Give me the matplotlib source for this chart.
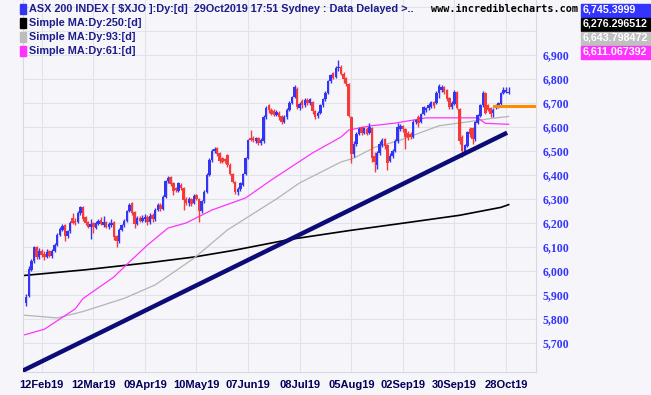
import numpy as np
import matplotlib.pyplot as plt
from matplotlib.patches import Rectangle

# daily candles, 04Feb19 .. 29Oct19 (index 0..187)
opens = [5865, 5895, 6005, 6040, 6098, 6060, 6085, 6070, 6060, 6082, 6062, 6085,
         6110, 6150, 6170, 6190, 6145, 6165, 6222, 6210, 6205, 6240, 6268, 6225,
         6205, 6185, 6198, 6180, 6195, 6212, 6190, 6205, 6185, 6190, 6205, 6145,
         6125, 6170, 6190, 6210, 6250, 6282, 6245, 6195, 6222, 6210, 6215, 6225,
         6205, 6232, 6215, 6255, 6275, 6258, 6310, 6375, 6390, 6365, 6345, 6335,
         6360, 6345, 6300, 6282, 6300, 6285, 6318, 6300, 6250, 6290, 6330, 6400,
         6462, 6500, 6512, 6490, 6470, 6465, 6482, 6442, 6405, 6372, 6328, 6340,
         6360, 6405, 6470, 6556, 6552, 6540, 6556, 6532, 6540, 6640, 6690, 6672,
         6665, 6650, 6660, 6645, 6622, 6640, 6670, 6700, 6725, 6760, 6680, 6710,
         6690, 6712, 6700, 6705, 6668, 6645, 6660, 6690, 6715, 6742, 6790, 6825,
         6810, 6845, 6850, 6822, 6805, 6780, 6642, 6488, 6530, 6570, 6598, 6575,
         6592, 6575, 6596, 6480, 6440, 6490, 6525, 6548, 6525, 6460, 6478, 6500,
         6540, 6590, 6605, 6590, 6575, 6570, 6560, 6620, 6642, 6620, 6655, 6670,
         6680, 6685, 6702, 6700, 6740, 6752, 6768, 6752, 6720, 6682, 6695, 6746,
         6675, 6560, 6495, 6520, 6590, 6596, 6548, 6618, 6645, 6690, 6742, 6690,
         6680, 6660, 6680, 6682, 6695, 6742, 6745, 6742]
highs = [5905, 6020, 6048, 6105, 6102, 6095, 6092, 6085, 6090, 6088, 6090, 6118,
         6158, 6182, 6195, 6195, 6172, 6210, 6240, 6220, 6250, 6272, 6272, 6228,
         6210, 6215, 6205, 6210, 6218, 6225, 6228, 6210, 6202, 6215, 6210, 6150,
         6178, 6195, 6218, 6255, 6285, 6288, 6250, 6228, 6230, 6232, 6238, 6235,
         6240, 6240, 6262, 6285, 6282, 6318, 6380, 6395, 6395, 6370, 6350, 6372,
         6368, 6350, 6310, 6308, 6305, 6320, 6322, 6305, 6295, 6338, 6408, 6470,
         6508, 6515, 6516, 6494, 6475, 6470, 6488, 6448, 6410, 6375, 6350, 6372,
         6410, 6475, 6550, 6588, 6562, 6560, 6560, 6552, 6650, 6688, 6695, 6680,
         6675, 6670, 6668, 6650, 6648, 6678, 6708, 6730, 6775, 6765, 6705, 6715,
         6720, 6720, 6722, 6710, 6672, 6668, 6695, 6720, 6748, 6795, 6822, 6830,
         6852, 6879, 6858, 6828, 6810, 6785, 6645, 6540, 6578, 6600, 6605, 6600,
         6598, 6615, 6600, 6495, 6498, 6540, 6552, 6552, 6530, 6490, 6508, 6548,
         6617, 6612, 6610, 6595, 6585, 6580, 6628, 6635, 6648, 6660, 6688, 6685,
         6698, 6710, 6708, 6748, 6780, 6775, 6772, 6758, 6725, 6708, 6752, 6750,
         6680, 6565, 6530, 6585, 6598, 6600, 6625, 6655, 6695, 6748, 6746, 6695,
         6685, 6680, 6695, 6705, 6745, 6768, 6765, 6765]
lows = [5852, 5890, 6000, 6035, 6050, 6050, 6058, 6045, 6055, 6058, 6055, 6080,
        6105, 6145, 6165, 6125, 6138, 6160, 6195, 6192, 6200, 6235, 6210, 6190,
        6178, 6135, 6160, 6175, 6190, 6190, 6182, 6178, 6175, 6185, 6130, 6100,
        6118, 6165, 6185, 6205, 6245, 6235, 6180, 6190, 6205, 6205, 6205, 6190,
        6195, 6205, 6210, 6250, 6250, 6255, 6305, 6365, 6355, 6315, 6328, 6330,
        6338, 6255, 6275, 6270, 6272, 6280, 6295, 6205, 6242, 6285, 6325, 6395,
        6455, 6492, 6480, 6450, 6448, 6450, 6435, 6398, 6365, 6322, 6317, 6335,
        6355, 6400, 6465, 6540, 6538, 6532, 6525, 6525, 6535, 6635, 6658, 6648,
        6645, 6645, 6630, 6612, 6615, 6635, 6665, 6695, 6720, 6675, 6672, 6680,
        6685, 6690, 6692, 6655, 6632, 6638, 6655, 6685, 6710, 6738, 6785, 6798,
        6805, 6835, 6815, 6785, 6772, 6640, 6450, 6475, 6522, 6565, 6568, 6570,
        6565, 6570, 6455, 6412, 6425, 6485, 6515, 6510, 6420, 6455, 6470, 6495,
        6535, 6585, 6580, 6508, 6545, 6550, 6555, 6612, 6600, 6615, 6650, 6662,
        6672, 6680, 6680, 6695, 6720, 6745, 6738, 6708, 6675, 6675, 6690, 6675,
        6530, 6475, 6488, 6515, 6560, 6530, 6540, 6612, 6640, 6685, 6655, 6665,
        6640, 6640, 6675, 6678, 6690, 6738, 6742, 6738]
closes = [5893, 6010, 6040, 6098, 6060, 6085, 6065, 6060, 6080, 6062, 6085, 6110,
          6150, 6175, 6188, 6145, 6165, 6200, 6198, 6200, 6240, 6265, 6215, 6200,
          6185, 6195, 6182, 6200, 6210, 6195, 6205, 6185, 6195, 6200, 6140, 6125,
          6170, 6190, 6210, 6250, 6275, 6240, 6195, 6220, 6210, 6222, 6225, 6205,
          6230, 6215, 6255, 6275, 6258, 6310, 6375, 6388, 6362, 6335, 6338, 6365,
          6345, 6295, 6285, 6300, 6280, 6312, 6300, 6250, 6290, 6330, 6400, 6462,
          6500, 6510, 6488, 6458, 6455, 6460, 6442, 6405, 6370, 6330, 6340, 6365,
          6405, 6470, 6545, 6545, 6546, 6552, 6532, 6545, 6640, 6680, 6670, 6655,
          6650, 6662, 6640, 6620, 6640, 6670, 6700, 6725, 6765, 6682, 6695, 6690,
          6712, 6700, 6715, 6665, 6640, 6660, 6690, 6715, 6742, 6790, 6815, 6805,
          6845, 6850, 6822, 6800, 6780, 6645, 6488, 6530, 6570, 6590, 6575, 6595,
          6572, 6598, 6470, 6455, 6490, 6530, 6545, 6520, 6450, 6480, 6500, 6540,
          6600, 6605, 6590, 6560, 6555, 6560, 6622, 6628, 6618, 6655, 6682, 6680,
          6692, 6704, 6686, 6742, 6772, 6768, 6745, 6715, 6682, 6700, 6745, 6680,
          6540, 6500, 6525, 6578, 6570, 6550, 6620, 6650, 6690, 6740, 6660, 6672,
          6655, 6672, 6690, 6698, 6740, 6752, 6755, 6745.3999]

# moving averages read at a few points (bar index, value)
ma250_idx = [-2, 23, 48, 65, 80, 102, 125, 148, 168, 184, 187]
ma250_val = [5980, 6005, 6035, 6058, 6085, 6131, 6168, 6202, 6232, 6265, 6276.3]
ma93_idx = [-2, 12, 22, 38, 50, 65, 78, 97, 106, 122, 127, 135, 145, 160, 169, 180, 187]
ma93_val = [5817, 5804, 5831, 5886, 5942, 6053, 6171, 6300, 6367, 6454, 6470, 6515,
            6545, 6605, 6618, 6635, 6643.8]
ma61_idx = [-2, 7, 19, 22, 34, 38, 47, 55, 62, 72, 85, 95, 111, 122, 125, 133, 143,
            155, 175, 178, 187]
ma61_val = [5730, 5757, 5842, 5885, 5975, 6017, 6108, 6179, 6200, 6254, 6304, 6379,
            6492, 6558, 6587, 6604, 6616, 6638, 6638, 6615, 6611.1]

# drawn lines
trend_idx = [-1.6, 186.4]
trend_val = [5583, 6576]
level_idx = [181.3, 198]
level_val = [6689, 6689]

tick_idx = [6, 26, 46, 66, 86, 106, 126, 146, 166, 186]
tick_lab = ['12Feb19', '12Mar19', '09Apr19', '10May19', '07Jun19', '08Jul19',
            '05Aug19', '02Sep19', '30Sep19', '28Oct19']
y_ticks = list(range(5700, 7200, 100))

W, H = 651, 395
bg = '#f6f6fa'
blue = '#3434f4'
red = '#f63a3a'

def fx(x):
    return x / W

def fy(y):
    return 1 - y / H

fig = plt.figure(figsize=(W / 100, H / 100), dpi=100)
fig.patch.set_facecolor(bg)
ax = fig.add_axes([fx(23), fy(372), fx(536) - fx(23), fy(0) - fy(372)])
ax.set_facecolor(bg)

o = np.array(opens)
c = np.array(closes)
hi = np.array(highs)
lo = np.array(lows)
idx = np.arange(len(c))
cols = np.where(c >= o, blue, red)

ax.vlines(idx, lo, hi, colors=cols, linewidth=1.0, zorder=3)
ax.bar(idx, np.maximum(np.abs(c - o), 3), bottom=np.minimum(o, c), width=0.95,
       color=cols, linewidth=0, zorder=3)

ax.plot(ma250_idx, ma250_val, color='black', lw=1.2, zorder=2)
ax.plot(ma93_idx, ma93_val, color='#b4b4b4', lw=0.9, zorder=2)
ax.plot(ma61_idx, ma61_val, color='#ff33ff', lw=0.9, zorder=2)
ax.plot(trend_idx, trend_val, color='#0c0c78', lw=3.2, solid_capstyle='butt', zorder=4)
ax.plot(level_idx, level_val, color='#ff8c00', lw=2.2, zorder=4)

ax.set_xlim(-1.25, 197.6)
ax.set_ylim(5579, 7129)

ax.set_yticks(y_ticks)
ax.set_yticklabels([f'{v:,}' if v <= 6900 else '' for v in y_ticks],
                   family='Liberation Serif', fontweight='bold', fontsize=8.5)
ax.yaxis.tick_right()
ax.tick_params(axis='y', length=0, pad=5, labelcolor='#3434ff')

ax.set_xticks(tick_idx)
ax.set_xticklabels(tick_lab, family='Liberation Sans', fontweight='bold', fontsize=8)
ax.tick_params(axis='x', length=0, pad=6, labelcolor='#00005a')

ax.grid(True, color='#e2e2ea', linewidth=0.8, zorder=0)
for s in ['left', 'right', 'bottom']:
    ax.spines[s].set_color('#d8d8e2')
ax.spines['top'].set_visible(False)

# legend at top left
leg_txt = ['ASX 200 INDEX [ \\$XJO ]:Dy:[d]  29Oct2019 17:51 Sydney : Data Delayed >..',
           'Simple MA:Dy:250:[d]', 'Simple MA:Dy:93:[d]', 'Simple MA:Dy:61:[d]']
leg_col = [blue, 'black', '#bdbdbd', '#ff33ff']
for k in range(4):
    yc = 9 + 14 * k
    fig.patches.append(Rectangle((fx(20), fy(yc + 5)), fx(6), 10 / H,
                                 transform=fig.transFigure, color=leg_col[k]))
    fig.text(fx(29), fy(yc), leg_txt[k], fontsize=7.8, fontweight='bold',
             family='Liberation Sans', color='#1c1c8c', va='center')

fig.text(fx(431), fy(9), 'www.incrediblecharts.com', fontsize=7.3, fontweight='bold',
         family='DejaVu Sans Mono', color='black', va='center')

# last values on the right
box_txt = ['6,745.3999', '6,276.296512', '6,643.798472', '6,611.067392']
box_col = ['#3434ff', 'black', '#c0c0c0', '#ff33ff']
for k in range(4):
    y0 = 3.5 + 14 * k
    fig.patches.append(Rectangle((fx(581), fy(y0 + 13)), fx(70), 13 / H,
                                 transform=fig.transFigure, color=box_col[k]))
    fig.text(fx(583), fy(y0 + 6.5), box_txt[k], fontsize=7.7, fontweight='bold',
             family='Liberation Sans', color='white', va='center')

fig.savefig('out.png', dpi=100, facecolor=bg)
